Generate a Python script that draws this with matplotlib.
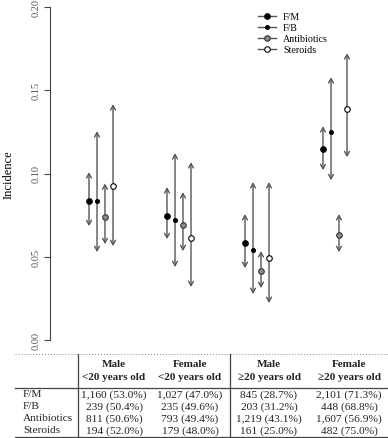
import matplotlib.pyplot as plt
from matplotlib.lines import Line2D
import numpy as np

plt.rcParams['font.family'] = ['Liberation Serif', 'DejaVu Serif']

W, H = 388, 439

# groups (x positions 1..4) and the four series
groups = ['Male\n<20 years old', 'Female\n<20 years old',
          'Male\n≥20 years old', 'Female\n≥20 years old']
series = ['F/M', 'F/B', 'Antibiotics', 'Steroids']

est = {
    'F/M':         [0.0834, 0.0744, 0.0582, 0.1146],
    'F/B':         [0.0834, 0.0720, 0.0540, 0.1248],
    'Antibiotics': [0.0738, 0.0690, 0.0414, 0.0630],
    'Steroids':    [0.0924, 0.0612, 0.0492, 0.1386],
}
lower = {
    'F/M':         [0.0684, 0.0606, 0.0432, 0.1020],
    'F/B':         [0.0528, 0.0438, 0.0276, 0.0960],
    'Antibiotics': [0.0576, 0.0534, 0.0312, 0.0528],
    'Steroids':    [0.0564, 0.0318, 0.0222, 0.1098],
}
upper = {
    'F/M':         [0.1008, 0.0918, 0.0756, 0.1284],
    'F/B':         [0.1254, 0.1122, 0.0948, 0.1578],
    'Antibiotics': [0.0940, 0.0888, 0.0534, 0.0756],
    'Steroids':    [0.1416, 0.1068, 0.0948, 0.1722],
}

row_labels = ['F/M', 'F/B', 'Antibiotics', 'Steroids']
cells = [
    ['1,160 (53.0%)', '1,027 (47.0%)', '845 (28.7%)', '2,101 (71.3%)'],
    ['239 (50.4%)', '235 (49.6%)', '203 (31.2%)', '448 (68.8%)'],
    ['811 (50.6%)', '793 (49.4%)', '1,219 (43.1%)', '1,607 (56.9%)'],
    ['194 (52.0%)', '179 (48.0%)', '161 (25.0%)', '482 (75.0%)'],
]

# marker styles per series
styles = {
    'F/M':         dict(marker='o', ms=4.0, mfc='black', mec='black', mew=0.8),
    'F/B':         dict(marker='o', ms=2.8, mfc='black', mec='black', mew=0.8),
    'Antibiotics': dict(marker='o', ms=4.0, mfc='#8c8c8c', mec='#333333', mew=0.8),
    'Steroids':    dict(marker='o', ms=4.0, mfc='white', mec='black', mew=0.8),
}
offsets = [-0.154, -0.051, 0.051, 0.154]


def fx(px):
    return px / W


def fy(py):
    return 1 - py / H


fig = plt.figure(figsize=(W / 100, H / 100), dpi=100)
ax = fig.add_axes([fx(50), fy(341), fx(388) - fx(50), fy(8) - fy(341)])
ax.set_xlim(1 - 51 / 78, 1 + 287 / 78)
ax.set_ylim(0, 0.2)

line_col = '#555555'
for k, s in enumerate(series):
    xs = np.arange(1, 5) + offsets[k]
    for i, x in enumerate(xs):
        ax.annotate('', xy=(x, upper[s][i]), xytext=(x, lower[s][i]),
                    arrowprops=dict(arrowstyle='<->,head_length=0.45,head_width=0.25',
                                    color=line_col, lw=1.0, shrinkA=0, shrinkB=0,
                                    mutation_scale=7),
                    annotation_clip=False)
    ax.plot(xs, est[s], ls='none', zorder=3, **styles[s])

for sp in ['top', 'right', 'bottom']:
    ax.spines[sp].set_visible(False)
ax.spines['left'].set_bounds(0, 0.2)
ax.spines['left'].set_color('#444444')
ax.set_xticks([])
ax.set_yticks([0, 0.05, 0.1, 0.15, 0.2])
ax.set_yticklabels(['0.00', '0.05', '0.10', '0.15', '0.20'], rotation=90,
                   va='center', fontsize=7.5, color='#555555')
ax.tick_params(axis='y', direction='out', length=4, color='#444444', pad=3)
ax.set_ylabel('Incidence', fontsize=9, labelpad=12)

handles = [Line2D([0], [0], color=line_col, lw=1.0, **styles[s]) for s in series]
fig.legend(handles, series, loc='upper left', bbox_to_anchor=(fx(258), fy(13)),
           frameon=False, fontsize=7.2, handlelength=1.8, handletextpad=0.7,
           labelspacing=0.2, borderpad=0, borderaxespad=0)

# table below the plot
tcol = '#222222'
fig.add_artist(Line2D([fx(15), fx(388)], [fy(355), fy(355)], color='#999999', lw=0.8, ls=':'))
fig.add_artist(Line2D([fx(15), fx(388)], [fy(388.5), fy(388.5)], color='#444444', lw=0.9))
fig.add_artist(Line2D([fx(15), fx(388)], [fy(437.5), fy(437.5)], color='#444444', lw=0.9))
for vx in [78, 230]:
    fig.add_artist(Line2D([fx(vx), fx(vx)], [fy(355), fy(437.5)], color='#444444', lw=0.9))

fs = 8.2
col_x = [114, 190, 269, 349]
for j, g in enumerate(groups):
    top, bot = g.split('\n')
    fig.text(fx(col_x[j]), fy(365), top, ha='center', va='center',
             fontsize=8, fontweight='bold', color=tcol)
    fig.text(fx(col_x[j]), fy(377.5), bot, ha='center', va='center',
             fontsize=8, fontweight='bold', color=tcol)

row_y = [395, 407, 419, 431]
for i, r in enumerate(row_labels):
    fig.text(fx(23), fy(row_y[i]), r, ha='left', va='center', fontsize=fs, color=tcol)
    for j in range(4):
        fig.text(fx(col_x[j]), fy(row_y[i]), cells[i][j], ha='center', va='center',
                 fontsize=fs, color=tcol)

fig.savefig('out.png', dpi=100)
